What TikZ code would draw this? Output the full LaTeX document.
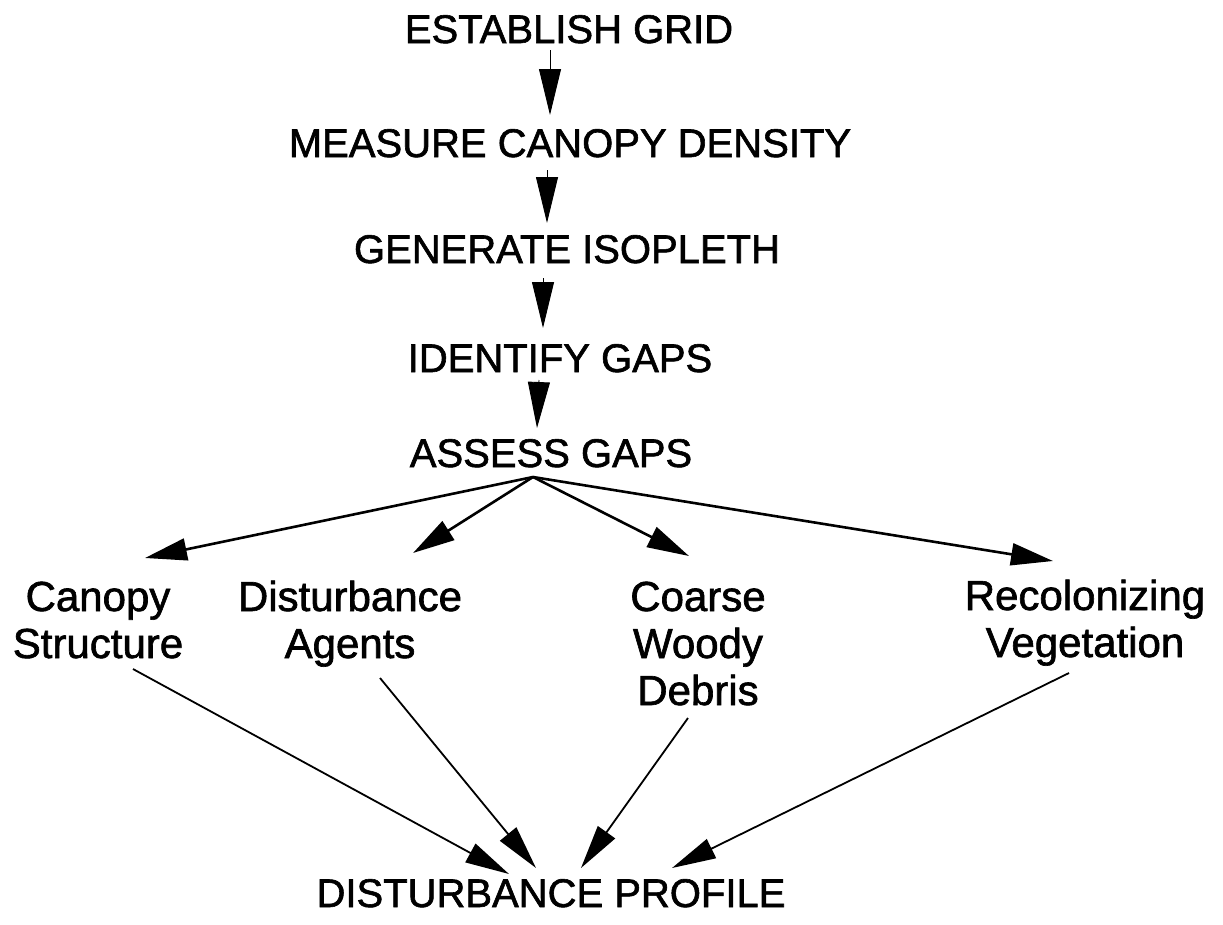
\documentclass[tikz,border=0pt]{standalone}
\usepackage{fontspec}
\setmainfont{Liberation Sans}[FakeBold=1.5]
\usetikzlibrary{arrows.meta}

\begin{document}
\begin{tikzpicture}[x=1pt,y=-1pt,
  caps/.style={inner sep=0pt, anchor=base, font=\fontsize{40}{46}\selectfont},
  topic/.style={inner sep=0pt, anchor=base, align=center, font=\fontsize{42}{47}\selectfont},
  chain/.style={line width=0.9pt, -{Triangle[length=46pt,width=22pt]}},
  fan/.style={line width=2.6pt, -{Triangle[length=42pt,width=22pt]}},
  feed/.style={line width=1.8pt, -{Triangle[length=44pt,width=21pt]}}]

  \path[use as bounding box] (0,0) rectangle (1223,924);

  % main sequence of steps
  \node[caps] (grid)     at (569,43)  {ESTABLISH GRID};
  \node[caps] (measure)  at (570,157) {MEASURE CANOPY DENSITY};
  \node[caps] (isopleth) at (567,263) {GENERATE ISOPLETH};
  \node[caps] (identify) at (560,372) {IDENTIFY GAPS};
  \node[caps] (assess)   at (551,467) {ASSESS GAPS};

  % aspects of each gap (base = baseline of the last line)
  \node[topic] (canopy)  at (98,658)   {Canopy\\Structure};
  \node[topic] (agents)  at (350,658)  {Disturbance\\Agents};
  \node[topic] (debris)  at (698,705)  {Coarse\\Woody\\Debris};
  \node[topic] (recolon) at (1085,657) {Recolonizing\\Vegetation};

  % result
  \node[caps] (profile) at (551,907) {DISTURBANCE PROFILE};

  % step arrows
  \draw[chain] ([xshift=-19pt,yshift=-7pt]grid.base)      -- ([xshift=-20pt,yshift=42pt]measure.base);
  \draw[chain] ([xshift=-23pt,yshift=-13pt]measure.base)  -- ([xshift=-20pt,yshift=40pt]isopleth.base);
  \draw[chain] ([xshift=-24pt,yshift=-15pt]isopleth.base) -- ([xshift=-17pt,yshift=44pt]identify.base);
  \draw[chain] ([xshift=-21pt,yshift=-8pt]identify.base)  -- ([xshift=-14pt,yshift=39pt]assess.base);

  % fan out from the gap assessment
  \draw[fan] ([xshift=-18pt,yshift=-10pt]assess.base) -- ([xshift=47pt,yshift=100pt]canopy.base);
  \draw[fan] ([xshift=-18pt,yshift=-10pt]assess.base) -- ([xshift=63pt,yshift=105pt]agents.base);
  \draw[fan] ([xshift=-18pt,yshift=-10pt]assess.base) -- ([xshift=-9pt,yshift=149pt]debris.base);
  \draw[fan] ([xshift=-18pt,yshift=-10pt]assess.base) -- ([xshift=-32pt,yshift=96pt]recolon.base);

  % converge on the profile
  \draw[feed] ([xshift=35pt,yshift=-11pt]canopy.base)  -- ([xshift=-42pt,yshift=33pt]profile.base);
  \draw[feed] ([xshift=30pt,yshift=-20pt]agents.base)  -- ([xshift=-15pt,yshift=39pt]profile.base);
  \draw[feed] ([xshift=-10pt,yshift=-13pt]debris.base) -- ([xshift=30pt,yshift=39pt]profile.base);
  \draw[feed] ([xshift=-16pt,yshift=-16pt]recolon.base) -- ([xshift=121pt,yshift=39pt]profile.base);
\end{tikzpicture}
\end{document}
